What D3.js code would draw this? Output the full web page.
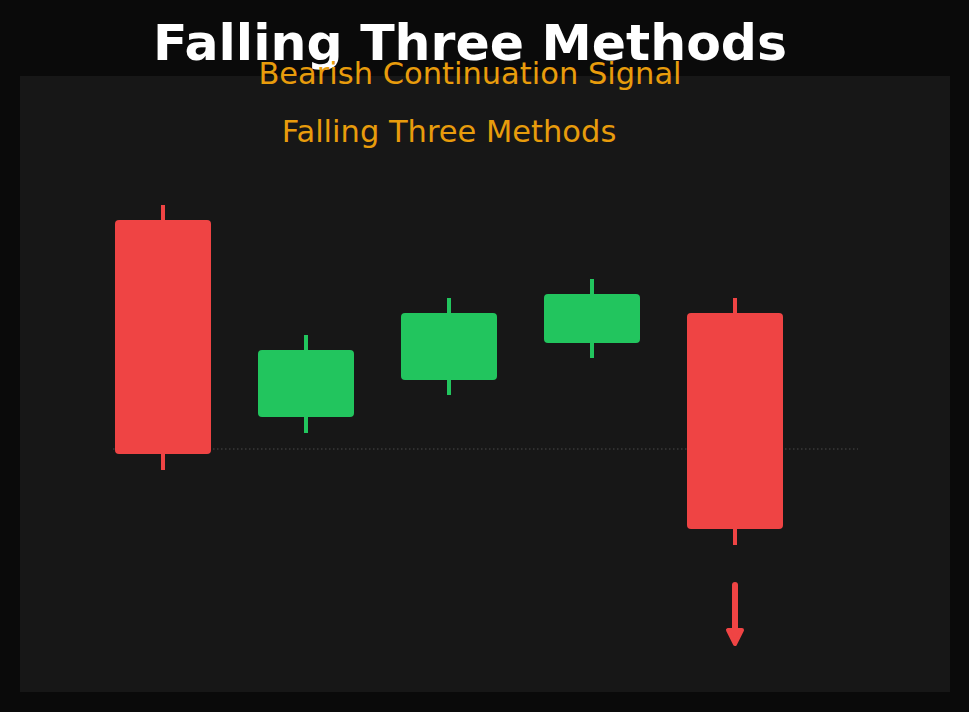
<!DOCTYPE html>
<html>
<head>
<meta charset="utf-8">
<script src="https://cdn.jsdelivr.net/npm/d3@7"></script>
<style>
  html, body { margin: 0; padding: 0; background: #0a0a0a; }
  svg { display: block; }
</style>
</head>
<body>
<svg id="chart" width="969" height="712"></svg>
<script>
// candle data, one entry per day
const days = ['d1', 'd2', 'd3', 'd4', 'd5']
const opens = [38.0, 18.3, 22.0, 25.7, 28.7]
const highs = [39.5, 26.5, 30.2, 32.1, 30.2]
const lows = [13.0, 16.7, 20.5, 24.2, 5.5]
const closes = [14.6, 25.0, 28.7, 30.6, 7.1]
const supportLevel = 15.1

const titleText = 'Falling Three Methods'
const subtitleText = 'Bearish Continuation Signal'
const labelText = 'Falling Three Methods'

const red = '#ef4444',
    green = '#22c55e',
    amber = '#e89c0c'

let svg = d3.select('#chart'),
    width = +svg.attr('width'),
    height = +svg.attr('height'),
    bodyW = 96

let candles = days.map((d, i) => ({
    day: d, open: opens[i], high: highs[i], low: lows[i], close: closes[i]
}))

let x = d3.scalePoint().domain(days).range([163, 735])
let y = d3.scaleLinear().domain([0, 50]).range([600, 100])

svg.append('rect')
    .attr('width', width).attr('height', height)
    .attr('fill', '#0a0a0a')

// plot panel
svg.append('rect')
    .attr('x', 20).attr('y', 76)
    .attr('width', 930).attr('height', 616)
    .attr('fill', '#171717')

svg.append('text')
    .attr('x', 470).attr('y', 60)
    .attr('text-anchor', 'middle')
    .attr('font-family', 'DejaVu Sans')
    .attr('font-weight', 'bold')
    .attr('font-size', 50.5)
    .attr('fill', '#ffffff')
    .text(titleText)

svg.append('text')
    .attr('x', 470).attr('y', 84)
    .attr('text-anchor', 'middle')
    .attr('font-family', 'DejaVu Sans')
    .attr('font-size', 30.5)
    .attr('fill', amber)
    .text(subtitleText)

svg.append('text')
    .attr('x', 449).attr('y', 142)
    .attr('text-anchor', 'middle')
    .attr('font-family', 'DejaVu Sans')
    .attr('font-size', 30.5)
    .attr('fill', amber)
    .text(labelText)

// dotted support line
svg.append('line')
    .attr('x1', 113).attr('x2', 858)
    .attr('y1', y(supportLevel)).attr('y2', y(supportLevel))
    .attr('stroke', '#4a4a4a')
    .attr('stroke-width', 1)
    .attr('stroke-dasharray', '1.5,2.5')

let g = svg.selectAll('g.candle')
    .data(candles)
    .enter().append('g')
    .attr('class', 'candle')

g.append('line')
    .attr('x1', d => x(d.day)).attr('x2', d => x(d.day))
    .attr('y1', d => y(d.high)).attr('y2', d => y(d.low))
    .attr('stroke', d => d.close < d.open ? red : green)
    .attr('stroke-width', 4)

g.append('rect')
    .attr('x', d => x(d.day) - bodyW / 2)
    .attr('y', d => y(Math.max(d.open, d.close)))
    .attr('width', bodyW)
    .attr('height', d => Math.abs(y(d.open) - y(d.close)))
    .attr('rx', 4)
    .attr('fill', d => d.close < d.open ? red : green)

// down arrow under last candle
let last = candles[candles.length - 1],
    ax = x(last.day),
    ay = y(last.low) + 40

svg.append('line')
    .attr('x1', ax).attr('x2', ax)
    .attr('y1', ay).attr('y2', ay + 48)
    .attr('stroke', red)
    .attr('stroke-width', 6)
    .attr('stroke-linecap', 'round')

svg.append('path')
    .attr('d', `M${ax - 7},${ay + 45} L${ax + 7},${ay + 45} L${ax},${ay + 59} Z`)
    .attr('fill', red)
    .attr('stroke', red)
    .attr('stroke-width', 4)
    .attr('stroke-linejoin', 'round')
</script>
</body>
</html>
